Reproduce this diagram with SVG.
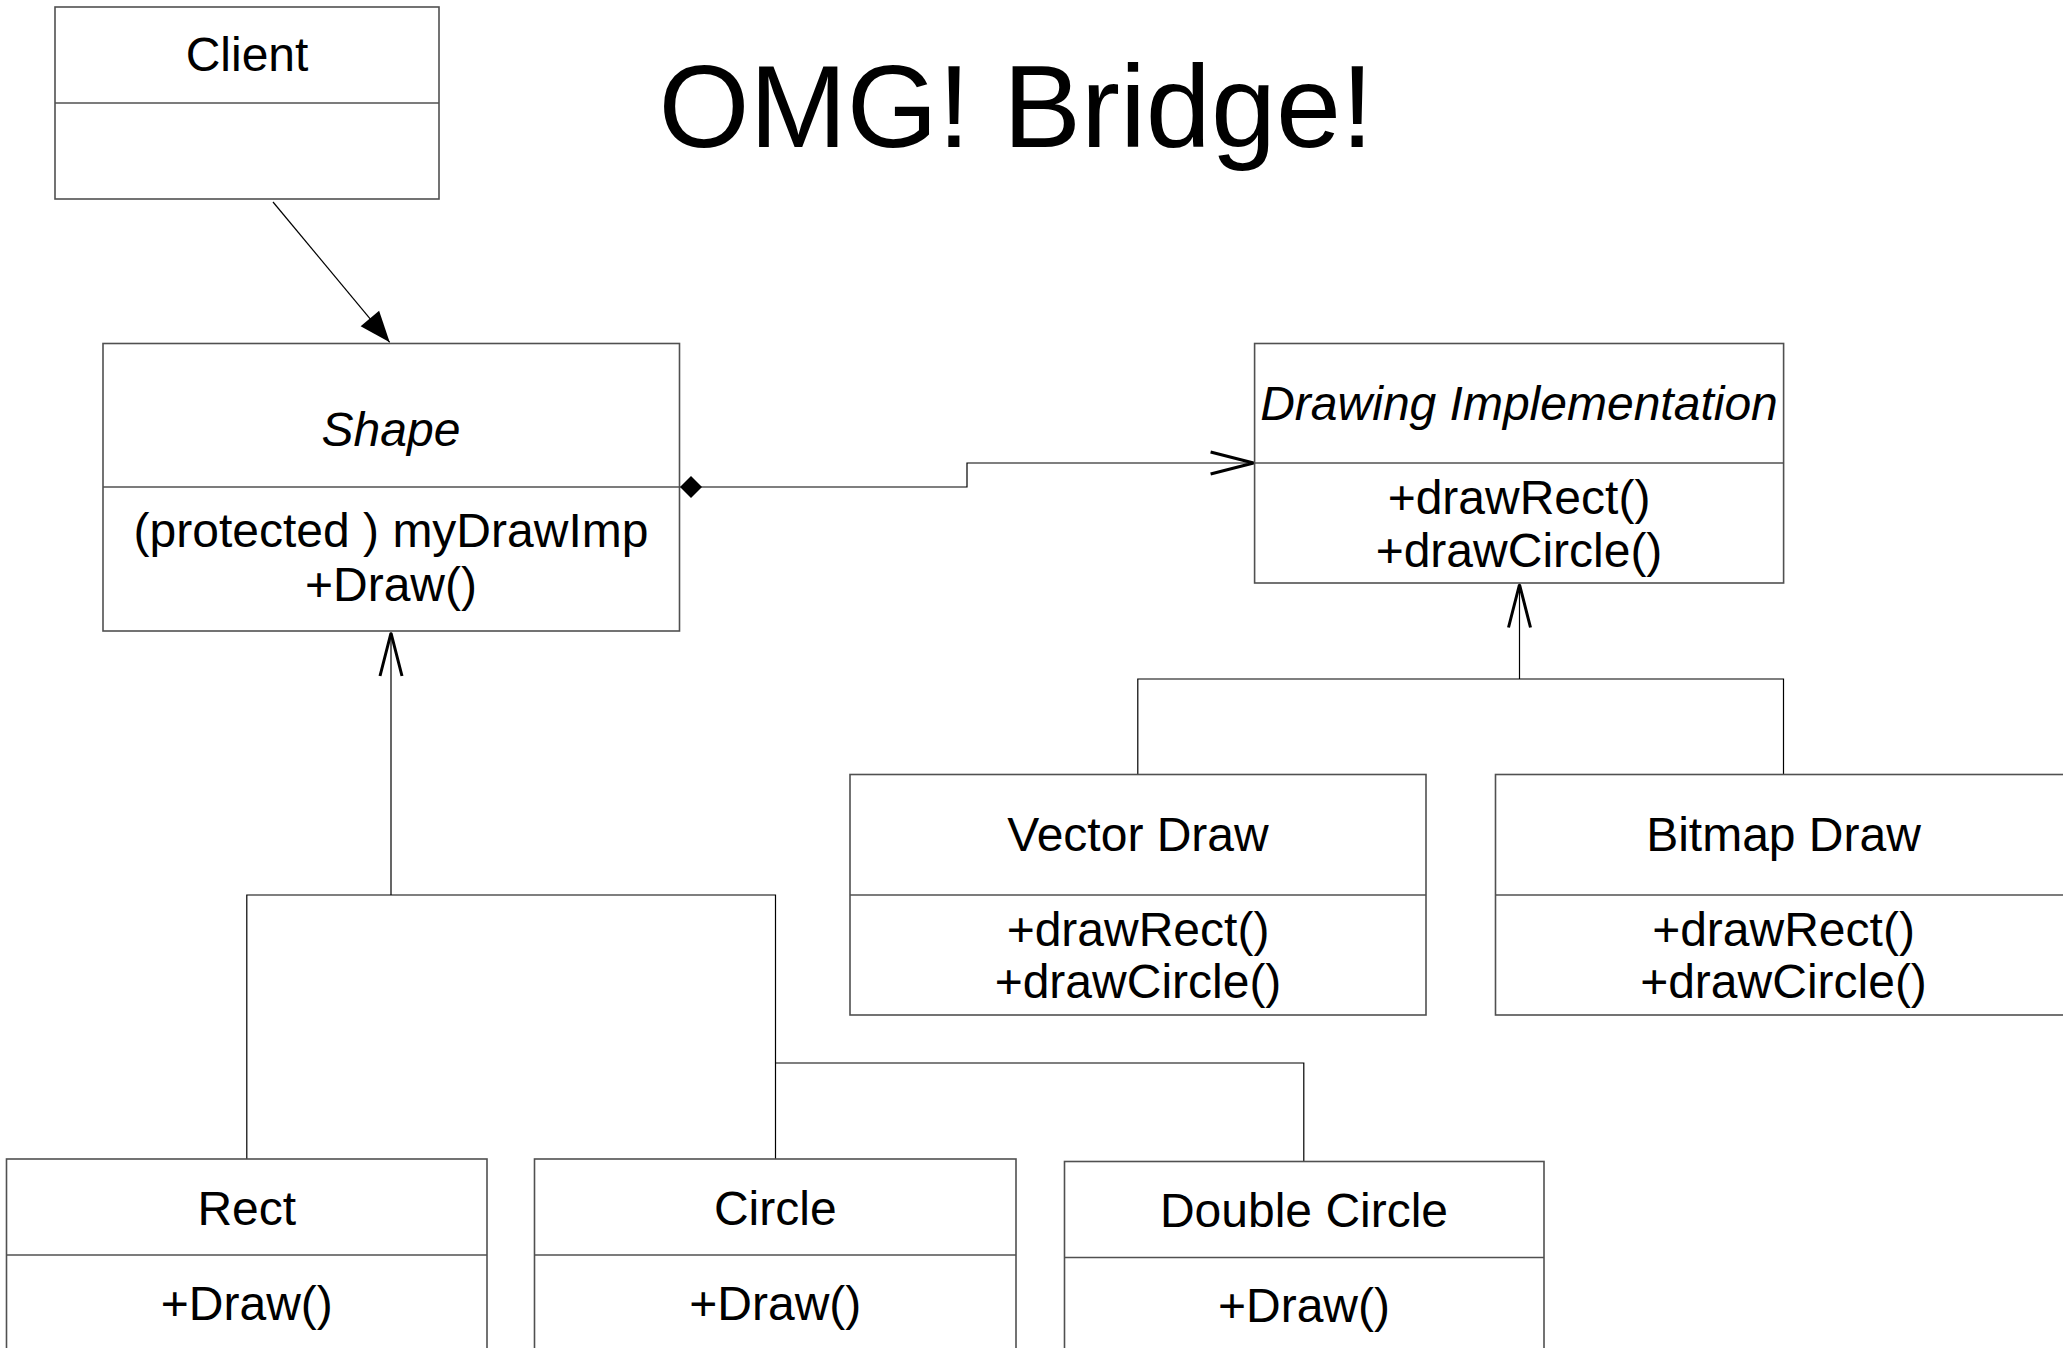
<svg xmlns="http://www.w3.org/2000/svg" width="2063" height="1348" viewBox="0 0 2063 1348">
<style>
.box{fill:#fff;stroke:#505050;stroke-width:1.6}
.div{stroke:#505050;stroke-width:1.6}
.t{font-family:"Liberation Sans",Arial,sans-serif;font-size:48px;fill:#000;text-anchor:middle}
.i{font-style:italic}
.c{fill:none;stroke:#000;stroke-width:1.2}
</style>
<defs>
<marker id="open" markerUnits="userSpaceOnUse" markerWidth="60" markerHeight="40" viewBox="-50 -20 60 40" refX="0" refY="0" orient="auto" overflow="visible">
<path d="M-44,-11 L-1,0 L-44,11" fill="none" stroke="#000" stroke-width="3"/>
</marker>
<marker id="filled" markerUnits="userSpaceOnUse" markerWidth="40" markerHeight="40" viewBox="-35 -20 40 40" refX="0" refY="0" orient="auto" overflow="visible">
<path d="M0,0 L-31,-12 L-31,12 Z" fill="#000"/>
</marker>
<marker id="diamond" markerUnits="userSpaceOnUse" markerWidth="30" markerHeight="30" viewBox="-2 -15 30 30" refX="0" refY="0" orient="auto" overflow="visible">
<path d="M0,0 L11,-11 L22,0 L11,11 Z" fill="#000"/>
</marker>
</defs>
<rect width="2063" height="1348" fill="#fff"/>
<text id="title" class="t" x="1016" y="147" style="font-size:117px">OMG! Bridge!</text>

<g id="connectors">
<path class="c" d="M273,202 L389.7,342.3" marker-end="url(#filled)"/>
<path class="c" d="M680,487 L967,487 L967,463 L1254.6,463" marker-start="url(#diamond)" marker-end="url(#open)"/>
<path class="c" d="M391,895 L391,632" marker-end="url(#open)"/>
<path class="c" d="M246.8,1159 L246.8,895 L775.5,895 L775.5,1159"/>
<path class="c" d="M775.5,1063 L1303.8,1063 L1303.8,1161.5"/>
<path class="c" d="M1519.5,679 L1519.5,583.5" marker-end="url(#open)"/>
<path class="c" d="M1137.8,774.5 L1137.8,679 L1783.5,679 L1783.5,774.5"/>
</g>

<g id="client">
<rect class="box" x="55" y="7" width="384" height="192"/>
<line class="div" x1="55" y1="103" x2="439" y2="103"/>
<text class="t" x="247" y="71">Client</text>
</g>

<g id="shape">
<rect class="box" x="103" y="343.5" width="576.5" height="287.5"/>
<line class="div" x1="103" y1="487" x2="679.5" y2="487"/>
<text class="t i" x="391" y="446">Shape</text>
<text class="t" x="391" y="547">(protected ) myDrawImp</text>
<text class="t" x="391" y="601">+Draw()</text>
</g>

<g id="drawing-implementation">
<rect class="box" x="1254.6" y="343.5" width="529" height="239.5"/>
<line class="div" x1="1254.6" y1="463" x2="1783.6" y2="463"/>
<text class="t i" x="1519" y="420">Drawing Implementation</text>
<text class="t" x="1519" y="514">+drawRect()</text>
<text class="t" x="1519" y="567">+drawCircle()</text>
</g>

<g id="vector-draw">
<rect class="box" x="850" y="774.5" width="576" height="240.5"/>
<line class="div" x1="850" y1="895" x2="1426" y2="895"/>
<text class="t" x="1138" y="851">Vector Draw</text>
<text class="t" x="1138" y="946">+drawRect()</text>
<text class="t" x="1138" y="998">+drawCircle()</text>
</g>

<g id="bitmap-draw">
<rect class="box" x="1495.5" y="774.5" width="576" height="240.5"/>
<line class="div" x1="1495.5" y1="895" x2="2071.5" y2="895"/>
<text class="t" x="1783.5" y="851">Bitmap Draw</text>
<text class="t" x="1783.5" y="946">+drawRect()</text>
<text class="t" x="1783.5" y="998">+drawCircle()</text>
</g>

<g id="rect">
<rect class="box" x="6.5" y="1159" width="480.5" height="240"/>
<line class="div" x1="6.5" y1="1255" x2="487" y2="1255"/>
<text class="t" x="246.8" y="1225">Rect</text>
<text class="t" x="246.8" y="1320">+Draw()</text>
</g>

<g id="circle">
<rect class="box" x="534.5" y="1159" width="481.5" height="240"/>
<line class="div" x1="534.5" y1="1255" x2="1016" y2="1255"/>
<text class="t" x="775.3" y="1225">Circle</text>
<text class="t" x="775.3" y="1320">+Draw()</text>
</g>

<g id="double-circle">
<rect class="box" x="1064.5" y="1161.5" width="479.5" height="240"/>
<line class="div" x1="1064.5" y1="1257.5" x2="1544" y2="1257.5"/>
<text class="t" x="1304" y="1227">Double Circle</text>
<text class="t" x="1304" y="1322">+Draw()</text>
</g>
</svg>
